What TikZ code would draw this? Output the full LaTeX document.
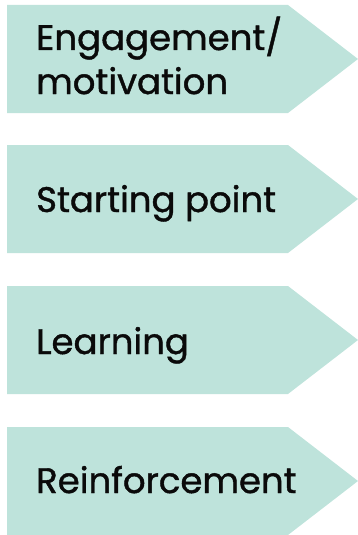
\documentclass[tikz,border=0pt]{standalone}
\usepackage{fontspec}
\setmainfont{Poppins}[FakeBold=1.2]
\usetikzlibrary{positioning}
\definecolor{Mint}{HTML}{BEE3DB}
\definecolor{Ink}{HTML}{0A0A0A}
\tikzset{stagetext/.style={anchor=base west,align=left,inner sep=0pt,text=Ink,font=\fontsize{35.5}{44}\selectfont}}
% #1 name, #2 top edge, #3 offset of last baseline, #4 label
\newcommand{\stage}[4]{%
  \fill[Mint] (7,#2) -- (288,#2) -- (358,#2+54) -- (288,#2+108) -- (7,#2+108) -- cycle;
  \node[stagetext] (#1) at (36,#2+#3) {#4};
}

\begin{document}
\begin{tikzpicture}[x=1pt,y=-1pt]
        \useasboundingbox (0,0) rectangle (358,535);
        \stage{engage}{5}{89}{Engagement/\\motivation}
        \stage{start}{145}{67}{Starting point}
        \stage{learn}{286}{68}{Learning}
        \stage{reinforce}{427}{66}{Reinforcement}
      \end{tikzpicture}
\end{document}
